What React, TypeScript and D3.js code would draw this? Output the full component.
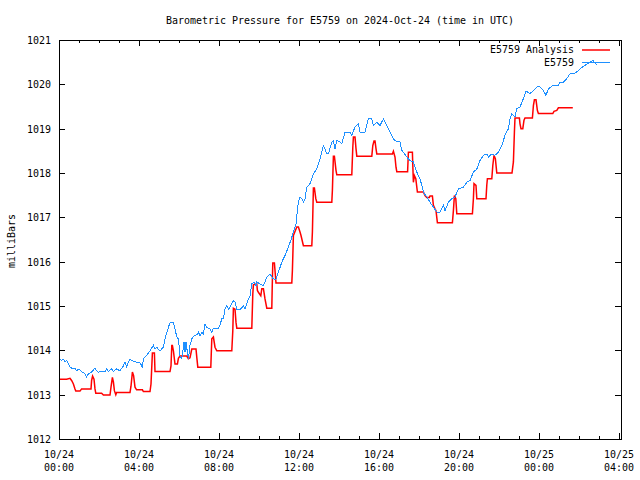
import React from "react";
import * as d3 from "d3";

const chartTitle = "Barometric Pressure for E5759 on 2024-Oct-24 (time in UTC)";
const yAxisLabel = "milliBars";
const analysisName = "E5759 Analysis";
const stationName = "E5759";

const tickHours = [0, 4, 8, 12, 16, 20, 24, 28];
const tickDates = ["10/24", "10/24", "10/24", "10/24", "10/24", "10/24", "10/25", "10/25"];
const tickTimes = ["00:00", "04:00", "08:00", "12:00", "16:00", "20:00", "00:00", "04:00"];
const yTickValues = [1012, 1013, 1014, 1015, 1016, 1017, 1018, 1019, 1020, 1021];

// hours since 2024-10-24 00:00 UTC, millibars
const analysisSeries: [number, number][] = [
  [0, 1013.35], [0.38, 1013.35], [0.55, 1013.37], [0.63, 1013.32], [0.72, 1013.24], [0.8, 1013.13],
  [0.84, 1013.08], [1.05, 1013.08], [1.13, 1013.13], [1.6, 1013.13], [1.63, 1013.32], [1.68, 1013.42],
  [1.75, 1013.35], [1.8, 1013.13], [1.84, 1013.03], [2.13, 1013.03], [2.22, 1012.99], [2.55, 1012.99],
  [2.6, 1013.17], [2.67, 1013.39], [2.72, 1013.29], [2.77, 1013.09], [2.84, 1013.0], [2.88, 1013.05],
  [3.55, 1013.05], [3.6, 1013.19], [3.67, 1013.51], [3.73, 1013.43], [3.8, 1013.17], [3.88, 1013.11],
  [4.17, 1013.11], [4.22, 1013.07], [4.55, 1013.07], [4.6, 1013.24], [4.67, 1013.94], [4.77, 1013.94],
  [4.8, 1013.52], [5.55, 1013.52], [5.6, 1013.65], [5.64, 1014.11], [5.67, 1014.11], [5.72, 1013.99],
  [5.8, 1013.69], [5.92, 1013.69], [5.97, 1013.82], [6.05, 1013.87], [6.39, 1013.87], [6.47, 1013.81],
  [6.55, 1013.83], [6.64, 1014.03], [6.85, 1014.03], [6.89, 1013.84], [6.94, 1013.62], [7.59, 1013.62],
  [7.64, 1014.26], [7.72, 1014.3], [7.8, 1014.07], [7.89, 1013.99], [8.64, 1013.99], [8.69, 1014.44],
  [8.72, 1014.95], [8.8, 1014.93], [8.85, 1014.63], [8.89, 1014.5], [9.64, 1014.5], [9.69, 1015.27],
  [9.72, 1015.48], [9.89, 1015.5], [9.92, 1015.35], [9.97, 1015.31], [10.09, 1015.23], [10.14, 1015.39],
  [10.22, 1015.39], [10.25, 1015.31], [10.3, 1015.16], [10.39, 1014.95], [10.64, 1014.95], [10.67, 1015.61],
  [10.69, 1015.97], [10.77, 1015.97], [10.85, 1015.52], [11.64, 1015.52], [11.67, 1015.8], [11.72, 1016.59],
  [11.89, 1016.78], [11.97, 1016.78], [12.05, 1016.67], [12.1, 1016.59], [12.22, 1016.36], [12.64, 1016.36],
  [12.67, 1016.67], [12.72, 1017.66], [12.77, 1017.66], [12.84, 1017.42], [12.89, 1017.34], [13.64, 1017.34],
  [13.67, 1017.61], [13.72, 1018.38], [13.77, 1018.38], [13.85, 1018.06], [13.89, 1017.96], [14.64, 1017.96],
  [14.69, 1018.58], [14.72, 1018.81], [14.8, 1018.81], [14.85, 1018.55], [14.89, 1018.38], [15.64, 1018.38],
  [15.69, 1018.62], [15.75, 1018.72], [15.8, 1018.72], [15.85, 1018.55], [15.89, 1018.43], [16.67, 1018.43],
  [16.72, 1018.49], [16.8, 1018.36], [16.85, 1018.13], [16.89, 1018.03], [17.43, 1018.03], [17.47, 1018.47],
  [17.67, 1018.47], [17.69, 1018.17], [17.72, 1017.79], [17.77, 1017.94], [17.84, 1017.87], [17.89, 1017.68],
  [17.92, 1017.57], [18.22, 1017.57], [18.3, 1017.49], [18.39, 1017.45], [18.52, 1017.45], [18.55, 1017.48],
  [18.67, 1017.48], [18.72, 1017.27], [18.8, 1017.19], [18.85, 1017.15], [18.92, 1016.88], [19.67, 1016.88],
  [19.72, 1017.15], [19.77, 1017.49], [19.84, 1017.42], [19.89, 1017.08], [20.67, 1017.08], [20.72, 1017.42],
  [20.75, 1017.76], [20.85, 1017.72], [20.89, 1017.42], [21.35, 1017.42], [21.39, 1017.73], [21.42, 1017.87],
  [21.64, 1017.87], [21.69, 1018.17], [21.75, 1018.4], [21.82, 1018.32], [21.89, 1018.0], [22.65, 1018.0],
  [22.72, 1018.25], [22.77, 1018.92], [22.8, 1019.24], [23.02, 1019.24], [23.05, 1019.11], [23.1, 1019.0],
  [23.19, 1019.0], [23.25, 1019.19], [23.3, 1019.24], [23.67, 1019.24], [23.72, 1019.52], [23.77, 1019.65],
  [23.85, 1019.65], [23.92, 1019.41], [23.97, 1019.34], [24.69, 1019.34], [24.75, 1019.39], [24.89, 1019.41],
  [24.97, 1019.47], [25.69, 1019.47],
];

const stationSeries: [number, number][] = [
  [0, 1013.81], [0.13, 1013.77], [0.2, 1013.81], [0.3, 1013.74], [0.38, 1013.77], [0.55, 1013.63],
  [0.63, 1013.6], [0.8, 1013.6], [0.88, 1013.54], [1.0, 1013.58], [1.13, 1013.52], [1.3, 1013.47],
  [1.38, 1013.4], [1.47, 1013.47], [1.63, 1013.51], [1.8, 1013.6], [1.88, 1013.54], [1.97, 1013.51],
  [2.13, 1013.52], [2.3, 1013.52], [2.38, 1013.58], [2.47, 1013.52], [2.63, 1013.58], [2.72, 1013.52],
  [2.88, 1013.58], [3.05, 1013.54], [3.22, 1013.65], [3.3, 1013.74], [3.38, 1013.63], [3.55, 1013.81],
  [3.63, 1013.77], [3.88, 1013.73], [4.05, 1013.72], [4.17, 1013.62], [4.22, 1013.81], [4.38, 1013.88],
  [4.55, 1013.99], [4.72, 1014.11], [4.8, 1014.03], [4.88, 1014.07], [5.05, 1013.99], [5.22, 1014.07],
  [5.3, 1014.26], [5.47, 1014.52], [5.55, 1014.62], [5.72, 1014.62], [5.8, 1014.48], [5.89, 1014.3],
  [5.97, 1014.26], [6.02, 1014.03], [6.05, 1013.88], [6.14, 1013.81], [6.19, 1013.96], [6.25, 1014.18],
  [6.3, 1013.96], [6.35, 1014.18], [6.42, 1013.96], [6.47, 1013.81], [6.55, 1014.11], [6.64, 1014.26],
  [6.72, 1014.32], [6.89, 1014.35], [6.97, 1014.41], [7.05, 1014.33], [7.14, 1014.41], [7.22, 1014.37],
  [7.3, 1014.6], [7.39, 1014.52], [7.55, 1014.48], [7.64, 1014.41], [7.72, 1014.5], [7.97, 1014.5],
  [8.05, 1014.57], [8.14, 1014.71], [8.22, 1014.72], [8.3, 1014.93], [8.39, 1015.01], [8.47, 1014.93],
  [8.55, 1014.97], [8.64, 1015.05], [8.72, 1015.12], [8.8, 1015.09], [8.89, 1014.92], [9.05, 1014.92],
  [9.22, 1015.0], [9.3, 1014.93], [9.39, 1015.05], [9.47, 1015.16], [9.55, 1015.23], [9.64, 1015.5],
  [9.75, 1015.54], [9.85, 1015.46], [9.89, 1015.54], [10.05, 1015.5], [10.22, 1015.46], [10.3, 1015.54],
  [10.39, 1015.65], [10.55, 1015.72], [10.72, 1015.61], [10.85, 1015.6], [10.97, 1015.76], [11.14, 1015.99],
  [11.3, 1016.14], [11.47, 1016.33], [11.59, 1016.48], [11.72, 1016.67], [11.85, 1016.85], [11.89, 1017.04],
  [11.97, 1017.34], [12.05, 1017.46], [12.14, 1017.42], [12.22, 1017.34], [12.3, 1017.42], [12.39, 1017.68],
  [12.55, 1017.76], [12.72, 1017.98], [12.89, 1018.09], [13.05, 1018.32], [13.22, 1018.62], [13.3, 1018.55],
  [13.39, 1018.43], [13.47, 1018.43], [13.64, 1018.7], [13.72, 1018.73], [13.8, 1018.55], [13.89, 1018.73],
  [14.05, 1018.7], [14.14, 1018.66], [14.3, 1018.92], [14.55, 1018.92], [14.64, 1018.85], [14.8, 1019.04],
  [14.97, 1019.11], [15.05, 1018.92], [15.3, 1018.92], [15.47, 1019.22], [15.64, 1019.22], [15.72, 1019.07],
  [15.89, 1019.15], [16.05, 1019.07], [16.22, 1019.22], [16.39, 1019.07], [16.55, 1018.92], [16.72, 1018.77],
  [16.89, 1018.7], [17.05, 1018.7], [17.14, 1018.51], [17.22, 1018.47], [17.39, 1018.36], [17.55, 1018.28],
  [17.72, 1018.25], [17.89, 1018.02], [18.05, 1017.87], [18.14, 1017.72], [18.22, 1017.57], [18.39, 1017.46],
  [18.55, 1017.34], [18.72, 1017.23], [18.89, 1017.12], [19.05, 1017.12], [19.22, 1017.27], [19.3, 1017.15],
  [19.47, 1017.34], [19.64, 1017.42], [19.8, 1017.46], [19.97, 1017.64], [20.22, 1017.68], [20.39, 1017.79],
  [20.55, 1017.83], [20.72, 1018.02], [20.89, 1018.09], [21.05, 1018.28], [21.22, 1018.4], [21.39, 1018.43],
  [21.47, 1018.36], [21.64, 1018.43], [21.8, 1018.4], [21.97, 1018.47], [22.14, 1018.62], [22.3, 1018.85],
  [22.47, 1019.0], [22.55, 1019.22], [22.64, 1019.34], [22.8, 1019.26], [22.89, 1019.45], [23.05, 1019.49],
  [23.22, 1019.68], [23.35, 1019.85], [23.55, 1019.79], [23.72, 1019.86], [23.89, 1019.94], [24.05, 1019.94],
  [24.22, 1019.86], [24.35, 1019.75], [24.47, 1019.9], [24.72, 1019.98], [24.97, 1019.98], [25.05, 1020.05],
  [25.22, 1020.05], [25.39, 1020.13], [25.55, 1020.24], [25.72, 1020.24], [25.89, 1020.28], [26.05, 1020.35],
  [26.3, 1020.43], [26.55, 1020.5], [26.69, 1020.54], [26.89, 1020.44],
];

const FONT = "'DejaVu Sans Mono', 'Liberation Mono', monospace";
const CHAR_W = 6;

function MonoText(props: { x: number; y: number; text: string; anchor?: "start" | "middle" | "end"; transform?: string }) {
  const { x, y, text, anchor = "start", transform } = props;
  return (
    <text
      x={x}
      y={y}
      textAnchor={anchor}
      fontFamily={FONT}
      fontSize={11}
      textLength={text.length * CHAR_W}
      lengthAdjust="spacingAndGlyphs"
      fill="#000"
      transform={transform}
    >
      {text}
    </text>
  );
}

export default function App() {
  const W = 640;
  const H = 480;
  const x = d3.scaleLinear().domain([0, 28.1]).range([59, 621]);
  const y = d3.scaleLinear().domain([1012, 1021]).range([439, 40]);
  const [x0, x1] = x.range();
  const [yb, yt] = y.range();

  const line = d3
    .line<[number, number]>()
    .x((d) => x(d[0]))
    .y((d) => y(d[1]));

  const hourTicks = d3.range(0, 29);

  const red = "#ff0000";
  const blue = "#1e90ff";

  return (
    <svg
      width={W}
      height={H}
      viewBox={`0 0 ${W} ${H}`}
      style={{ position: "absolute", left: 0, top: 0, background: "#fff", display: "block" }}
    >
      <rect x={0} y={0} width={W} height={H} fill="#fff" />
      <MonoText x={340} y={24} text={chartTitle} anchor="middle" />

      {/* y ticks */}
      {yTickValues.map((v) => (
        <g key={v}>
          <line x1={x0} x2={x0 + 6} y1={Math.round(y(v)) + 0.5} y2={Math.round(y(v)) + 0.5} stroke="#000" shapeRendering="crispEdges" />
          <line x1={x1 - 6} x2={x1} y1={Math.round(y(v)) + 0.5} y2={Math.round(y(v)) + 0.5} stroke="#000" shapeRendering="crispEdges" />
          <MonoText x={51} y={Math.round(y(v)) + 4} text={String(v)} anchor="end" />
        </g>
      ))}

      {/* x ticks */}
      {hourTicks.map((h) => {
        const major = h % 4 === 0;
        const len = major ? 6 : 3;
        const px = Math.round(x(h)) + 0.5;
        return (
          <g key={h}>
            <line x1={px} x2={px} y1={yb} y2={yb - len} stroke="#000" shapeRendering="crispEdges" />
            <line x1={px} x2={px} y1={yt} y2={yt + len} stroke="#000" shapeRendering="crispEdges" />
          </g>
        );
      })}
      {tickHours.map((h, i) => (
        <g key={"lbl" + h}>
          <MonoText x={x(h)} y={458} text={tickDates[i]} anchor="middle" />
          <MonoText x={x(h)} y={471} text={tickTimes[i]} anchor="middle" />
        </g>
      ))}

      {/* y label */}
      <MonoText x={0} y={0} text={yAxisLabel} anchor="middle" transform={`translate(15,241) rotate(-90)`} />

      {/* series */}
      <path d={line(analysisSeries) || ""} fill="none" stroke={red} strokeWidth={1.5} strokeLinejoin="miter" />
      <path d={line(stationSeries) || ""} fill="none" stroke={blue} strokeWidth={1} shapeRendering="crispEdges" />

      {/* legend */}
      <MonoText x={574} y={53} text={analysisName} anchor="end" />
      <line x1={582} x2={610} y1={50} y2={50} stroke={red} strokeWidth={1.5} />
      <MonoText x={574} y={66} text={stationName} anchor="end" />
      <line x1={582} x2={610} y1={62.5} y2={62.5} stroke={blue} strokeWidth={1} shapeRendering="crispEdges" />

      {/* frame */}
      <rect x={x0 + 0.5} y={yt + 0.5} width={x1 - x0} height={yb - yt} fill="none" stroke="#000" shapeRendering="crispEdges" />
    </svg>
  );
}
